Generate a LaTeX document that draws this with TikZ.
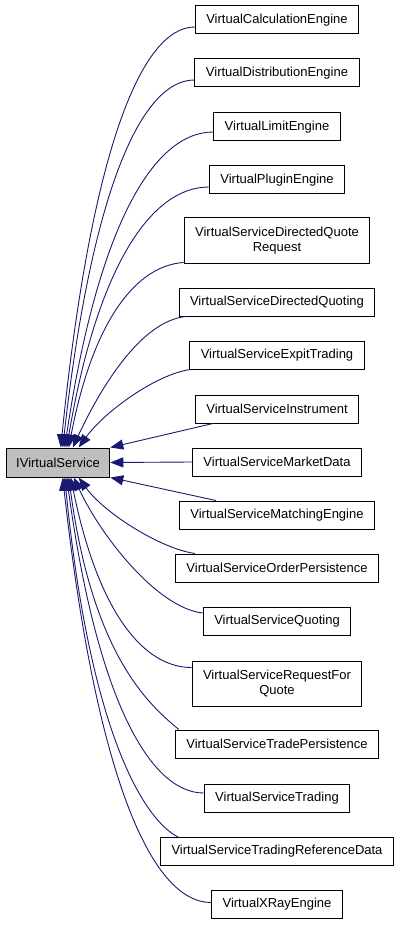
\documentclass[tikz,border=0pt]{standalone}
\usepackage{fontspec}
\setmainfont{Liberation Sans}
\usetikzlibrary{arrows.meta}
\definecolor{edgeblue}{RGB}{25,25,112}
\definecolor{boxgray}{RGB}{191,191,191}
\begin{document}
\begin{tikzpicture}[x=1pt,y=-1pt,
  cls/.style={draw=black,line width=1pt,fill=white,inner xsep=11pt,inner ysep=0pt,
    minimum height=28pt,font=\fontsize{13}{15}\selectfont,align=center},
  cls2/.style={cls,minimum height=45pt},
  basecls/.style={cls,fill=boxgray,minimum height=29pt,inner xsep=10pt},
  edge/.style={draw=edgeblue,line width=0.9pt,-{Triangle[length=13pt,width=10pt]}}
]
\useasboundingbox (0,0) rectangle (400,925);

\node[basecls] (p) at (58,462.5) {IVirtualService};

\node[cls]  (n1)  at (277,20)    {VirtualCalculationEngine};
\node[cls]  (n2)  at (277,73)    {VirtualDistributionEngine};
\node[cls]  (n3)  at (277,127)   {VirtualLimitEngine};
\node[cls]  (n4)  at (277,180)   {VirtualPluginEngine};
\node[cls2] (n5)  at (277,240.5) {VirtualServiceDirectedQuote\\Request};
\node[cls]  (n6)  at (277,302)   {VirtualServiceDirectedQuoting};
\node[cls]  (n7)  at (277,355)   {VirtualServiceExpitTrading};
\node[cls]  (n8)  at (277,409)   {VirtualServiceInstrument};
\node[cls]  (n9)  at (277,462)   {VirtualServiceMarketData};
\node[cls]  (n10) at (277,515)   {VirtualServiceMatchingEngine};
\node[cls]  (n11) at (277,568)   {VirtualServiceOrderPersistence};
\node[cls]  (n12) at (277,621)   {VirtualServiceQuoting};
\node[cls2] (n13) at (277,683.5) {VirtualServiceRequestFor\\Quote};
\node[cls]  (n14) at (277,744)   {VirtualServiceTradePersistence};
\node[cls]  (n15) at (277,798)   {VirtualServiceTrading};
\node[cls]  (n16) at (277,851.5) {VirtualServiceTradingReferenceData};
\node[cls]  (n17) at (277,904.5) {VirtualXRayEngine};

% upper edges
\draw[edge] ([yshift=-7pt]n1.west) .. controls +(-54,0) and +(30,-295) .. ([xshift=55pt]p.north west);
\draw[edge] ([yshift=-7pt]n2.west) .. controls +(-53,0) and +(29,-258) .. ([xshift=57pt]p.north west);
\draw[edge] ([yshift=-5pt]n3.west) .. controls +(-60,0) and +(33,-221) .. ([xshift=59pt]p.north west);
\draw[edge] ([yshift=-7pt]n4.west) .. controls +(-57,0) and +(31,-183) .. ([xshift=61pt]p.north west);
\draw[edge] ([yshift=1pt]n5.south west) .. controls +(-46,3) and +(25,-130) .. ([xshift=63pt]p.north west);
\draw[edge] ([xshift=7pt]n6.south west) .. controls +(-45,5) and +(28,-60) .. ([xshift=67pt]p.north west);
\draw[edge] ([xshift=1pt]n7.south west) .. controls +(-35,5) and +(25,-35) .. ([xshift=73pt]p.north west);
% straight edges
\draw[edge] ([xshift=18pt]n8.south west) -- (p.north east);
\draw[edge] (n9.west) -- (p.east);
\draw[edge] ([xshift=37pt]n10.north west) -- (p.south east);
% lower edges
\draw[edge] ([xshift=20pt]n11.north west) .. controls +(-35,-5) and +(25,35) .. ([xshift=73pt]p.south west);
\draw[edge] ([yshift=8pt]n12.west) .. controls +(-45,-5) and +(28,60) .. ([xshift=68pt]p.south west);
\draw[edge] ([yshift=16pt]n13.west) .. controls +(-49,0) and +(27,133) .. ([xshift=65pt]p.south west);
\draw[edge] ([xshift=4pt]n14.north west) .. controls +(-30,-25) and +(24,178) .. ([xshift=63pt]p.south west);
\draw[edge] ([yshift=5pt]n15.west) .. controls +(-54,0) and +(30,221) .. ([xshift=61pt]p.south west);
\draw[edge] ([xshift=18pt]n16.north west) .. controls +(-35,-18) and +(25,253) .. ([xshift=59pt]p.south west);
\draw[edge] ([yshift=2pt]n17.west) .. controls +(-60,0) and +(33,298) .. ([xshift=57pt]p.south west);
\end{tikzpicture}
\end{document}
